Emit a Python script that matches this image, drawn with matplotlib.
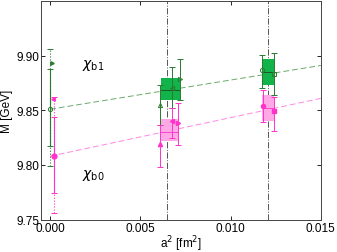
import matplotlib
matplotlib.use('Agg')
import matplotlib.pyplot as plt
from matplotlib.patches import Rectangle

plt.rcParams['font.family'] = 'Liberation Sans'
plt.rcParams['font.size'] = 8.5

# chi_b1 (green): lattice points
b1_x = [0.00609, 0.00676, 0.00718, 0.01173, 0.01243]
b1_y = [9.855, 9.870, 9.879, 9.887, 9.883]
b1_lo = [9.837, 9.852, 9.859, 9.870, 9.864]
b1_hi = [9.873, 9.890, 9.897, 9.901, 9.902]
b1_mk = ['^', '<', '>', 'o', 's']

# chi_b0 (pink): lattice points
b0_x = [0.00609, 0.00676, 0.00709, 0.01178, 0.01238]
b0_y = [9.819, 9.840, 9.838, 9.854, 9.849]
b0_lo = [9.798, 9.825, 9.818, 9.839, 9.831]
b0_hi = [9.837, 9.852, 9.857, 9.869, 9.862]
b0_mk = ['^', '<', '>', 'o', 's']

# continuum values
b1_cont = (0.0, 9.851, 9.817, 9.888)
b0_cont = (0.00024, 9.808, 9.774, 9.844)
b1_exp = (0.0, 9.893, 9.799, 9.906)
b0_exp = (0.00024, 9.860, 9.756, 9.862)

# averaged boxes (x range, y range, centre)
b1_box = [(0.00612, 0.00722, 9.859, 9.880, 9.869), (0.01173, 0.01238, 9.873, 9.897, 9.885)]
b0_box = [(0.00614, 0.00709, 9.822, 9.842, 9.830), (0.01173, 0.01240, 9.840, 9.864, 9.852)]

# linear fits
b1_fit = (9.851, 2.67)
b0_fit = (9.808, 3.53)

vlines = [0.00646, 0.0121]

g_dark = '#2a7a30'
g_fill = '#12b34a'
p_dark = '#ff33cc'
p_fill = '#ffa8e6'

fig = plt.figure(figsize=(3.37, 2.53), dpi=100)
ax = fig.add_axes([0.122, 0.128, 0.830, 0.864])

for x in vlines:
    ax.axvline(x, color='#555555', ls='-.', lw=0.7, zorder=1)

xs = [0.0, 0.015]
ax.plot(xs, [b1_fit[0] + b1_fit[1] * x for x in xs], color='#6aaa6a', ls=(0, (6, 3)), lw=0.7, zorder=2)
ax.plot(xs, [b0_fit[0] + b0_fit[1] * x for x in xs], color='#ff88e0', ls=(0, (6, 3)), lw=0.7, zorder=2)

for (x0, x1, y0, y1, yc), fc in [(b, g_fill) for b in b1_box] + [(b, p_fill) for b in b0_box]:
    ax.add_patch(Rectangle((x0, y0), x1 - x0, y1 - y0, facecolor=fc, edgecolor='none', zorder=3))
    ax.plot([x0, x1], [yc, yc], color='#224422' if fc == g_fill else p_dark, lw=0.6, zorder=4)

for x, y, lo, hi, m in zip(b1_x, b1_y, b1_lo, b1_hi, b1_mk):
    ax.errorbar(x, y, yerr=[[y - lo], [hi - y]], fmt=m, ms=3, mfc='none', mec=g_dark, mew=0.7,
                ecolor=g_dark, elinewidth=0.7, capsize=2, capthick=0.7, zorder=5)
for x, y, lo, hi, m in zip(b0_x, b0_y, b0_lo, b0_hi, b0_mk):
    ax.errorbar(x, y, yerr=[[y - lo], [hi - y]], fmt=m, ms=3, mfc=p_dark, mec=p_dark,
                ecolor=p_dark, elinewidth=0.7, capsize=2, capthick=0.7, zorder=5)

x, y, lo, hi = b1_cont
ax.errorbar(x, y, yerr=[[y - lo], [hi - y]], fmt='o', ms=3, mfc='none', mec=g_dark, mew=0.7,
            ecolor=g_dark, elinewidth=0.8, capsize=2, capthick=0.7, zorder=6)
x, y, lo, hi = b0_cont
ax.errorbar(x, y, yerr=[[y - lo], [hi - y]], fmt='o', ms=3.5, mfc=p_dark, mec=p_dark,
            ecolor=p_dark, elinewidth=0.8, capsize=2, capthick=0.7, zorder=6)
x, y, lo, hi = b1_exp
eb = ax.errorbar(x, y, yerr=[[y - lo], [hi - y]], fmt='none',
                 ecolor=g_dark, elinewidth=0.8, capsize=2, capthick=0.7, zorder=6)
eb[2][0].set_linestyle(':')
ax.plot(x + 0.0001, y, marker='>', ms=2.5, color=g_dark, zorder=6)
x, y, lo, hi = b0_exp
eb = ax.errorbar(x, y, yerr=[[y - lo], [hi - y]], fmt='none',
                 ecolor=p_dark, elinewidth=0.8, capsize=2, capthick=0.7, zorder=6)
eb[2][0].set_linestyle(':')
ax.plot(x - 0.0001, y, marker='<', ms=2.5, color=p_dark, zorder=6)

ax.text(0.0024, 9.892, r'$\chi_{\rm b1}$', fontsize=10, ha='center', va='center')
ax.text(0.0024, 9.791, r'$\chi_{\rm b0}$', fontsize=10, ha='center', va='center')

ax.set_xlim(-0.0005, 0.015)
ax.set_ylim(9.75, 9.95)
ax.set_xticks([0.0, 0.005, 0.010, 0.015])
ax.set_xticklabels(['0.000', '0.005', '0.010', '0.015'])
ax.set_yticks([9.75, 9.80, 9.85, 9.90])
ax.set_yticklabels(['9.75', '9.80', '9.85', '9.90'])
ax.tick_params(direction='in', top=True, right=True, length=3, width=0.6, pad=1.5)
for s in ax.spines.values():
    s.set_linewidth(0.7)
    s.set_color('#444444')
ax.set_xlabel(r'a$^2$ [fm$^2$]', labelpad=0)
ax.set_ylabel('M [GeV]', labelpad=2)

fig.savefig('out.png', dpi=100)
